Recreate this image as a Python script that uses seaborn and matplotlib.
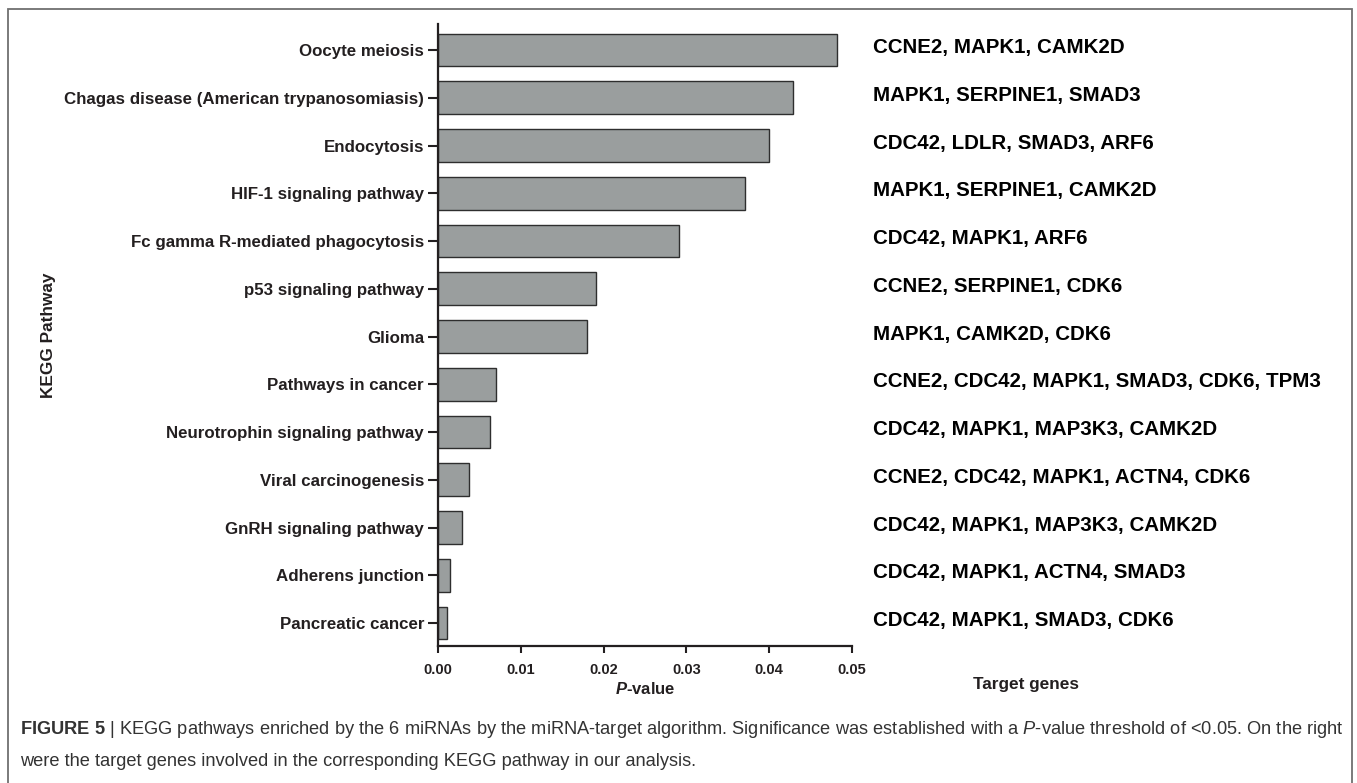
import numpy as np
import pandas as pd
import matplotlib
matplotlib.use("Agg")
import matplotlib.pyplot as plt
import seaborn as sns
from matplotlib import font_manager as fm
from matplotlib.transforms import blended_transform_factory
from matplotlib.patches import Rectangle

# ---------------- data ----------------
pathways = [
    "Oocyte meiosis",
    "Chagas disease (American trypanosomiasis)",
    "Endocytosis",
    "HIF-1 signaling pathway",
    "Fc gamma R-mediated phagocytosis",
    "p53 signaling pathway",
    "Glioma",
    "Pathways in cancer",
    "Neurotrophin signaling pathway",
    "Viral carcinogenesis",
    "GnRH signaling pathway",
    "Adherens junction",
    "Pancreatic cancer",
]
pvalues = [0.0482, 0.0429, 0.0400, 0.0371, 0.0291, 0.0191, 0.0180,
           0.0070, 0.0063, 0.0037, 0.0029, 0.0014, 0.0011]
genes = [
    "CCNE2, MAPK1, CAMK2D",
    "MAPK1, SERPINE1, SMAD3",
    "CDC42, LDLR, SMAD3, ARF6",
    "MAPK1, SERPINE1, CAMK2D",
    "CDC42, MAPK1, ARF6",
    "CCNE2, SERPINE1, CDK6",
    "MAPK1, CAMK2D, CDK6",
    "CCNE2, CDC42, MAPK1, SMAD3, CDK6, TPM3",
    "CDC42, MAPK1, MAP3K3, CAMK2D",
    "CCNE2, CDC42, MAPK1, ACTN4, CDK6",
    "CDC42, MAPK1, MAP3K3, CAMK2D",
    "CDC42, MAPK1, ACTN4, SMAD3",
    "CDC42, MAPK1, SMAD3, CDK6",
]
xticks = [0.00, 0.01, 0.02, 0.03, 0.04, 0.05]
xtick_labels = ["0.00", "0.01", "0.02", "0.03", "0.04", "0.05"]
caption_line1 = (r"$\mathbf{FIGURE\ 5}$ | KEGG pathways enriched by the 6 miRNAs by the "
                 r"miRNA-target algorithm. Significance was established with a "
                 r"$\mathit{P}$-value threshold of <0.05. On the right")
caption_line2 = "were the target genes involved in the corresponding KEGG pathway in our analysis."

# ---------------- style ----------------
sns.set_theme(style="ticks")
plt.rcParams["font.family"] = ["Liberation Sans", "DejaVu Sans"]
names = {f.name for f in fm.fontManager.ttflist}
cap_font = "Liberation Sans Narrow" if "Liberation Sans Narrow" in names else "Liberation Sans"
plt.rcParams["mathtext.fontset"] = "custom"
plt.rcParams["mathtext.rm"] = cap_font
plt.rcParams["mathtext.it"] = cap_font + ":italic"
plt.rcParams["mathtext.bf"] = cap_font + ":bold"
plt.rcParams["mathtext.sf"] = "Liberation Sans:bold:italic"

W, H = 1357, 783
INK = "#231f20"
fig = plt.figure(figsize=(W / 100, H / 100), dpi=100)
fig.patch.set_facecolor("white")

ax = fig.add_axes([438 / W, 1 - 646 / H, (852 - 438) / W, (646 - 24) / H])
df = pd.DataFrame({"pathway": pathways, "p": pvalues})
sns.barplot(data=df, x="p", y="pathway", ax=ax, orient="h", color="#9a9e9e",
            saturation=1, edgecolor="#2e2e2e", linewidth=1.0, width=0.685)

ax.set_xlim(0, 0.05)
ax.set_ylim(12.48, -0.545)
ax.set_xticks(xticks)
ax.set_xticklabels(xtick_labels, fontweight="bold", fontsize=10.5, color=INK)
ax.set_yticks(range(len(pathways)))
ax.set_yticklabels(pathways, fontweight="bold", fontsize=12.2, color=INK)
sns.despine(ax=ax)
for s in ["left", "bottom"]:
    ax.spines[s].set_linewidth(1.6)
    ax.spines[s].set_color(INK)
ax.tick_params(axis="y", length=7, width=1.5, pad=3, color=INK)
ax.tick_params(axis="x", length=5, width=1.5, pad=7, color=INK)
ax.set_ylabel("")
ax.set_xlabel(r"$\mathsf{P}$-value", fontweight="bold", fontsize=12, color=INK, labelpad=3)

# gene labels on the right
tr = blended_transform_factory(fig.transFigure, ax.transData)
for i, g in enumerate(genes):
    ax.text(873 / W, i - 0.05, g, transform=tr, ha="left", va="center",
            fontsize=14.8, fontweight="bold", color="black", clip_on=False)

fig.text(48 / W, 1 - 335 / H, "KEGG Pathway", rotation=90, ha="center", va="center",
         fontsize=12.4, fontweight="bold", color=INK)
fig.text(1026 / W, 1 - 684 / H, "Target genes", ha="center", va="center",
         fontsize=12.4, fontweight="bold", color=INK)

# frame
fig.add_artist(Rectangle((8 / W, -0.2), (1352 - 8) / W, 1.2 - 9 / H, transform=fig.transFigure,
                         fill=False, edgecolor="#707070", linewidth=1.3, clip_on=False))

# caption, sized to span the frame
renderer = fig.canvas.get_renderer()
t1 = fig.text(20 / W, 1 - 734 / H, caption_line1, ha="left", va="baseline",
              fontsize=13, family=cap_font, color="#333333")
w = t1.get_window_extent(renderer=renderer).width
size = 13 * (1317 / w)
t1.set_fontsize(size)
fig.text(20 / W, 1 - 766 / H, caption_line2, ha="left", va="baseline",
         fontsize=size, family=cap_font, color="#333333")

fig.savefig("out.png", dpi=100, facecolor="white")
